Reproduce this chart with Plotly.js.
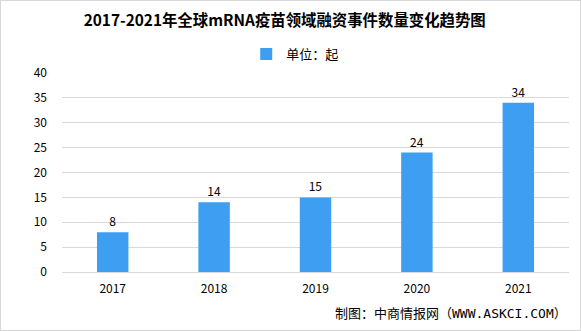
<!DOCTYPE html>
<html><head><meta charset="utf-8">
<script src="https://cdn.plot.ly/plotly-3.0.1.min.js"></script>
<style>html,body{margin:0;padding:0;background:#fff}
#c{width:581px;height:331px;box-sizing:border-box;border:1px solid #d6d6d6}</style>
</head><body><div id="c"></div>
<script>
const years = ['2017','2018','2019','2020','2021'];
const counts = [8,14,15,24,34];
const seriesName = '单位：起';
const yTicks = [0,5,10,15,20,25,30,35,40];
const font = '"Noto Sans CJK SC", "DejaVu Sans", sans-serif';
const monoFont = '"DejaVu Sans Mono", "Noto Sans CJK SC", monospace';
Plotly.newPlot('c', [{
  type:'bar', x:years, y:counts, name:seriesName,
  marker:{color:'#3d9ef2'},
  text:counts.map(String), textposition:'outside', cliponaxis:false,
  textfont:{size:12,color:'#000',family:font}
}], {
  width:579, height:329,
  margin:{l:61,r:11,t:72,b:58},
  paper_bgcolor:'#fff', plot_bgcolor:'#fff',
  title:{text:'<b>2017-2021年全球mRNA疫苗领域融资事件数量变化趋势图</b>', x:0.49, xanchor:'center', y:0.958, yanchor:'top', font:{size:15.4,color:'#000',family:font}},
  showlegend:true,
  legend:{orientation:'h', x:0.46, xanchor:'center', y:1.095, yanchor:'middle', itemwidth:30, font:{size:13,color:'#000',family:font}},
  bargap:0.69,
  xaxis:{type:'category', showgrid:false, showline:false, ticks:'', tickfont:{size:12,color:'#000',family:font}, ticklabelstandoff:8},
  yaxis:{range:[0,40], tickvals:yTicks, showgrid:true, gridcolor:'#d9d9d9', gridwidth:1, zeroline:true, zerolinecolor:'#d9d9d9', showline:false, ticks:'', tickfont:{size:12,color:'#000',family:font}, ticklabelstandoff:14},
  annotations:[{text:'制图：中商情报网（WWW.ASKCI.COM）', xref:'paper', yref:'paper', x:1, xanchor:'right', y:-0.207, yanchor:'middle', showarrow:false, font:{size:13,color:'#000',family:monoFont}}]
}, {displayModeBar:false, staticPlot:true});
</script></body></html>
